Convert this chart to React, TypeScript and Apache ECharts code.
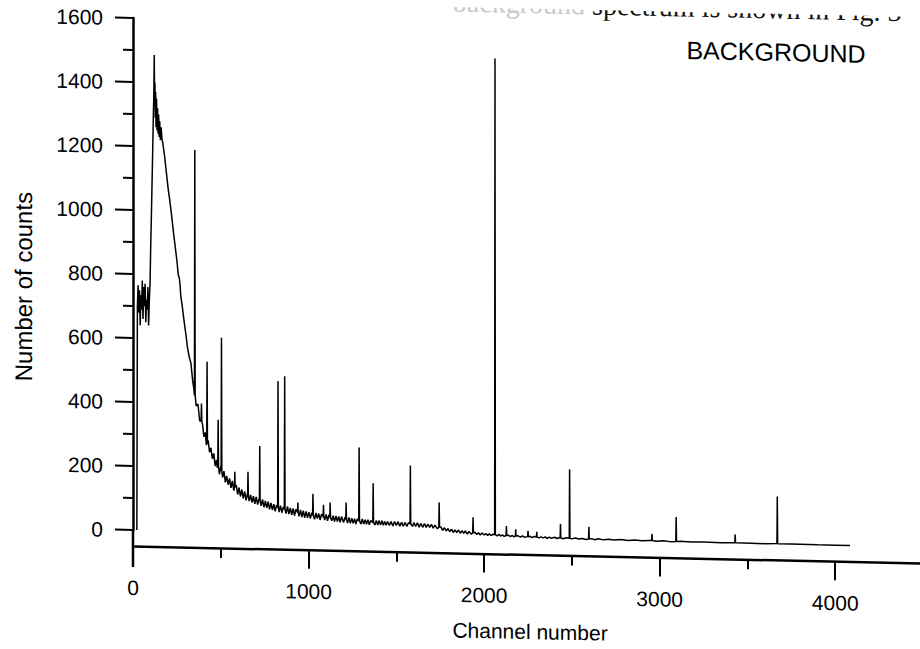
import React, { useEffect, useRef } from 'react';
import * as echarts from 'echarts';

// Tick labels
const xTickValues = [0, 1000, 2000, 3000, 4000];
const yTickValues = [0, 200, 400, 600, 800, 1000, 1200, 1400, 1600];

// Low-channel region of the spectrum (channel, counts)
const lowRegion: [number, number][] = [
  [22, 0], [25, 700], [29, 765], [33, 680], [37, 750], [41, 640], [45, 735], [49, 690],
  [53, 780], [57, 660], [61, 760], [65, 700], [69, 770], [73, 650], [77, 720], [81, 690],
  [85, 760], [89, 640], [93, 720], [97, 770], [101, 890], [105, 990], [109, 1100],
  [113, 1210], [116, 1300], [119, 1370], [121, 1486], [123, 1350], [125, 1400],
  [127, 1290], [129, 1370], [131, 1260], [134, 1350], [137, 1250], [140, 1320],
  [143, 1240], [146, 1300], [149, 1230], [152, 1280], [156, 1220], [160, 1260],
  [165, 1225], [170, 1210], [180, 1170], [190, 1120], [200, 1070], [210, 1030],
  [220, 985], [230, 935], [240, 890], [250, 845], [258, 800], [264, 790], [268, 770],
  [272, 735], [280, 705], [290, 660], [300, 620], [310, 575], [320, 545],
];

// Continuum (channel, counts), following the visible noise band
const continuum: [number, number][] = [
  [330, 525], [340, 470], [346, 448], [360, 392], [370, 398], [380, 345], [396, 335],
  [404, 296], [412, 310], [418, 270], [428, 285], [436, 248], [444, 262], [452, 228],
  [460, 245], [468, 205], [476, 225], [480, 200], [492, 180], [500, 205], [510, 170],
  [518, 190], [526, 155], [534, 175], [542, 148], [550, 168], [558, 138], [566, 160],
  [574, 130], [588, 148], [596, 118], [604, 140], [612, 112], [620, 134], [628, 106],
  [636, 128], [644, 100], [652, 122], [662, 98], [670, 118], [678, 94], [686, 114],
  [694, 90], [702, 112], [710, 88], [718, 106], [730, 84], [738, 104], [746, 80],
  [754, 100], [762, 78], [770, 98], [778, 74], [786, 94], [794, 72], [802, 90],
  [810, 68], [818, 88], [832, 66], [840, 86], [848, 64], [856, 82], [872, 62],
  [880, 84], [888, 60], [896, 80], [904, 58], [912, 78], [920, 56], [928, 76],
  [946, 54], [954, 74], [962, 52], [970, 72], [978, 50], [986, 70], [994, 50],
  [1002, 68], [1010, 48], [1018, 66], [1034, 46], [1042, 66], [1050, 48], [1058, 64],
  [1066, 44], [1074, 62], [1092, 44], [1100, 62], [1108, 42], [1116, 60], [1132, 42],
  [1140, 58], [1148, 40], [1156, 58], [1164, 40], [1172, 56], [1180, 38], [1188, 56],
  [1200, 38], [1208, 54], [1222, 36], [1230, 54], [1238, 36], [1246, 52], [1254, 36],
  [1262, 50], [1270, 34], [1278, 50], [1298, 34], [1306, 50], [1314, 34], [1322, 48],
  [1330, 34], [1338, 48], [1346, 32], [1354, 46], [1378, 32], [1386, 46], [1394, 32],
  [1402, 46], [1410, 32], [1418, 46], [1426, 32], [1434, 44], [1442, 32], [1450, 44],
  [1460, 32], [1470, 44], [1480, 30], [1490, 44], [1500, 32], [1510, 44], [1520, 30],
  [1530, 42], [1540, 30], [1550, 42], [1560, 30], [1570, 42], [1592, 30], [1600, 42],
  [1610, 30], [1620, 42], [1630, 28], [1640, 40], [1650, 28], [1660, 40], [1670, 28],
  [1680, 38], [1690, 28], [1700, 38], [1710, 26], [1720, 36], [1734, 24], [1754, 30],
  [1764, 20], [1774, 28], [1784, 18], [1794, 26], [1804, 16], [1814, 24], [1824, 14],
  [1834, 22], [1844, 14], [1854, 22], [1864, 12], [1874, 20], [1884, 12], [1894, 20],
  [1904, 10], [1914, 18], [1926, 10], [1948, 16], [1958, 9], [1968, 15], [1978, 8],
  [1988, 14], [2000, 8], [2010, 13], [2020, 7], [2030, 12], [2040, 7], [2050, 11],
  [2074, 6], [2084, 11], [2094, 6], [2104, 10], [2114, 5], [2140, 9], [2150, 5],
  [2160, 9], [2170, 4], [2194, 8], [2206, 4], [2218, 8], [2230, 4], [2262, 7],
  [2274, 3], [2286, 7], [2312, 3], [2324, 6], [2336, 3], [2348, 6], [2360, 2],
  [2372, 6], [2384, 2], [2400, 6], [2416, 2], [2428, 5], [2450, 2], [2470, 5],
  [2500, 2], [2520, 5], [2540, 2], [2560, 4], [2580, 1], [2612, 4], [2630, 1],
  [2650, 4], [2680, 1], [2710, 3], [2740, 1], [2780, 3], [2820, 1], [2860, 3],
  [2900, 1], [2940, 2], [2980, 0], [3020, 2], [3060, 0], [3120, 2], [3180, 0],
  [3250, 1], [3350, 0], [3480, 1], [3600, 0], [3750, 1], [3900, 0], [4000, 0], [4084, 0],
];

// Peaks: [channel, base counts, top counts]
const peaks: [number, number, number][] = [
  [352, 425, 1192], [390, 345, 400], [422, 275, 531], [485, 205, 350], [504, 190, 607],
  [580, 140, 189], [655, 112, 190], [722, 100, 271], [826, 80, 475], [864, 75, 491],
  [939, 66, 97], [1025, 58, 125], [1085, 54, 92], [1123, 52, 99], [1214, 48, 100],
  [1288, 44, 273], [1368, 40, 162], [1580, 38, 220], [1744, 30, 107], [1937, 14, 63],
  [2062, 10, 1498], [2127, 8, 38], [2180, 7, 28], [2250, 6, 24], [2300, 5, 22],
  [2435, 4, 48], [2487, 4, 219], [2597, 3, 41], [2956, 2, 23], [3094, 1, 77],
  [3430, 1, 27], [3670, 1, 148],
];

function buildSpectrum(): [number, number][] {
  const pts: [number, number][] = [...lowRegion, ...continuum];
  for (const [ch, base, top] of peaks) {
    pts.push([ch - 2, base], [ch, top], [ch + 2, base]);
  }
  pts.sort((a, b) => a[0] - b[0]);
  return pts;
}

const SANS = '"Liberation Sans", Arial, sans-serif';
const SERIF = '"Liberation Serif", "Times New Roman", serif';

export default function App() {
  const ref = useRef<HTMLDivElement>(null);

  useEffect(() => {
    if (!ref.current) return;
    const chart = echarts.init(ref.current, null, { renderer: 'svg' });
    chart.setOption({
      animation: false,
      backgroundColor: '#fff',
      grid: { left: 133, top: 18, right: 17, bottom: 119 },
      xAxis: {
        type: 'value',
        min: 0,
        max: 4500,
        interval: 1000,
        offset: 16,
        axisLine: { show: true, onZero: false, lineStyle: { color: '#000', width: 2.5 } },
        axisTick: { show: true, length: 19, lineStyle: { color: '#000', width: 2 } },
        minorTick: { show: true, splitNumber: 2, length: 10, lineStyle: { color: '#000', width: 2 } },
        splitLine: { show: false },
        axisLabel: {
          margin: 31,
          color: '#000',
          fontSize: 21,
          fontFamily: SANS,
          formatter: (v: number) => (xTickValues.includes(v) ? String(v) : ''),
        },
      },
      yAxis: {
        type: 'value',
        min: 0,
        max: 1600,
        interval: 200,
        axisLine: { show: true, lineStyle: { color: '#000', width: 2.5 } },
        axisTick: { show: true, length: 18, lineStyle: { color: '#000', width: 2 } },
        minorTick: { show: true, splitNumber: 2, length: 10, lineStyle: { color: '#000', width: 2 } },
        splitLine: { show: false },
        axisLabel: {
          margin: 30,
          color: '#000',
          fontSize: 21,
          fontFamily: SANS,
          formatter: (v: number) => (yTickValues.includes(v) ? String(v) : ''),
        },
      },
      graphic: [
        {
          type: 'line',
          shape: { x1: 133, y1: 530, x2: 133, y2: 567 },
          style: { stroke: '#000', lineWidth: 2.5 },
        },
        {
          type: 'text',
          x: 776,
          y: 38,
          style: {
            text: 'BACKGROUND',
            fontSize: 25,
            fontFamily: SANS,
            fill: '#000',
            textAlign: 'center',
            textVerticalAlign: 'middle',
          },
        },
        {
          type: 'text',
          x: 24,
          y: 289,
          rotation: Math.PI / 2,
          style: {
            text: 'Number of counts',
            fontSize: 24,
            fontFamily: SANS,
            fill: '#000',
            textAlign: 'center',
            textVerticalAlign: 'middle',
          },
        },
        {
          type: 'text',
          x: 530,
          y: 623,
          style: {
            text: 'Channel number',
            fontSize: 21,
            fontFamily: SANS,
            fill: '#000',
            textAlign: 'center',
            textVerticalAlign: 'middle',
          },
        },
        {
          type: 'text',
          x: 585,
          y: 9,
          style: {
            text: 'background',
            fontSize: 28,
            fontFamily: SERIF,
            fill: '#c8c8c8',
            textAlign: 'right',
            textVerticalAlign: 'bottom',
          },
        },
        {
          type: 'text',
          x: 592,
          y: 9,
          style: {
            text: 'spectrum is shown in Fig. 3',
            fontSize: 28,
            fontFamily: SERIF,
            fill: '#111',
            textAlign: 'left',
            textVerticalAlign: 'bottom',
          },
        },
      ],
      series: [
        {
          type: 'line',
          data: buildSpectrum(),
          showSymbol: false,
          symbol: 'none',
          lineStyle: { color: '#000', width: 1.5 },
          clip: false,
        },
      ],
    });
    return () => chart.dispose();
  }, []);

  return (
    <div
      style={{
        position: 'fixed',
        left: 0,
        top: 0,
        width: 920,
        height: 649,
        overflow: 'hidden',
        background: '#fff',
      }}
    >
      <div
        ref={ref}
        style={{
          width: 940,
          height: 649,
          transform: 'skewY(1.24deg)',
          transformOrigin: '133px 0px',
        }}
      />
    </div>
  );
}
